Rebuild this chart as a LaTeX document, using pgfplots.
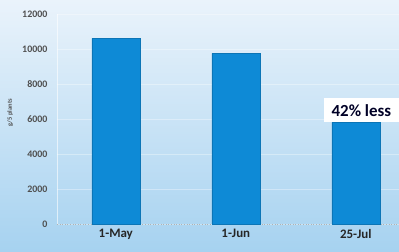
\documentclass[border=0pt]{standalone}
\usepackage{pgfplots}
\pgfplotsset{compat=1.18}
\usepackage{fontspec}
\setmainfont{Carlito}
\definecolor{barc}{RGB}{14,138,214}
\definecolor{bgtop}{RGB}{234,243,251}
\definecolor{bgbot}{RGB}{166,210,240}
\definecolor{tickc}{RGB}{80,80,80}
\begin{document}
\begin{tikzpicture}[x=1bp,y=1bp]
\shade[top color=bgtop, bottom color=bgbot] (0,0) rectangle (399,252);
\useasboundingbox (0,0) rectangle (399,252);
\begin{axis}[
  at={(57bp,28bp)}, anchor=south west,
  scale only axis, width=342bp, height=210bp,
  xmin=-0.49, xmax=2.36, ymin=0, ymax=12000,
  clip=false,
  axis line style={draw=none},
  xtick={0,1,2}, xticklabels={1-May,1-Jun,25-Jul},
  ytick={0,2000,...,12000},
  major tick length=0pt,
  ymajorgrids, grid style={white, opacity=0.35, line width=0.6pt},
  scaled y ticks=false,
  /pgf/number format/assume math mode=true,
  /pgf/number format/set thousands separator={},
  yticklabel style={font=\fontsize{10}{10}\selectfont\bfseries, text=tickc, xshift=-6bp},
  xticklabel style={font=\fontsize{13}{13}\selectfont\bfseries, text=black!85, yshift=-2bp},
  ylabel={g/5 plants},
  ylabel style={font=\fontsize{6.5}{6.5}\selectfont\bfseries, text=tickc, at={(axis description cs:-0.137,0.53)}, anchor=center},
  ybar, bar width=48bp,
]
\draw[white, opacity=0.6, line width=0.8pt] (axis cs:-0.49,0) -- (axis cs:-0.49,12000);
\draw[gray!60, dotted, line width=0.6pt] (axis cs:-0.49,0) -- (axis cs:2.36,0);
\addplot[fill=barc, draw=barc!85!black, line width=0.4pt] coordinates {(0,10600) (1,9750) (2,5800)};
\node[fill=white, anchor=west, inner xsep=8bp, inner ysep=3bp, minimum height=24bp, font=\fontsize{17}{17}\selectfont\bfseries, text=black!85!blue] at (axis cs:1.73,6500) {42\% less};
\end{axis}
\end{tikzpicture}
\end{document}
